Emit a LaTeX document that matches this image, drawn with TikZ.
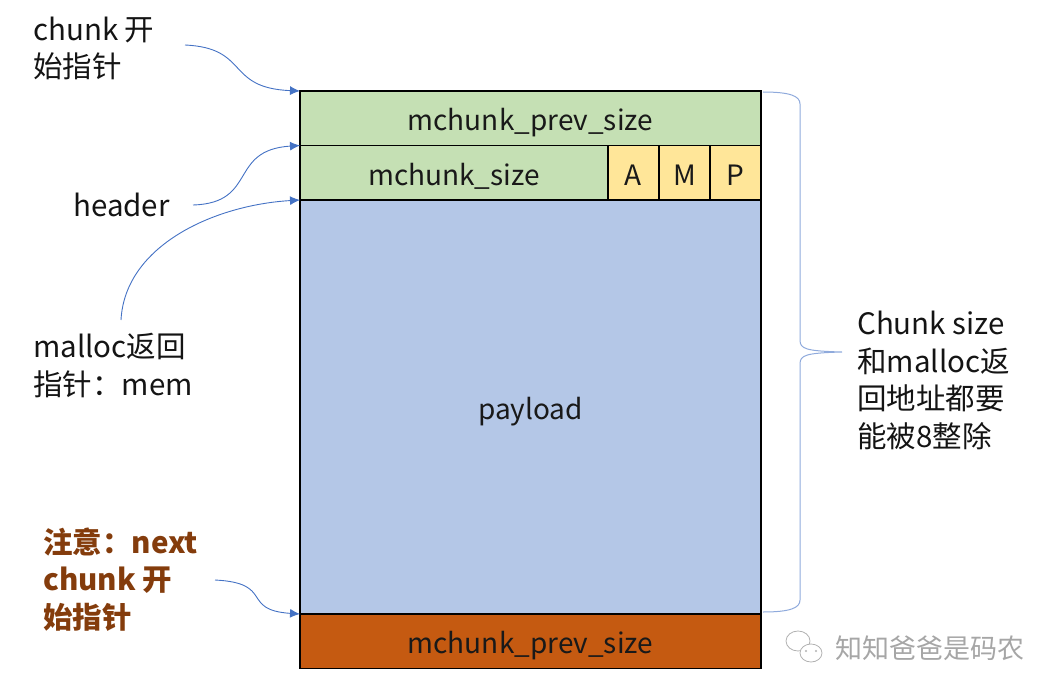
\documentclass[tikz,border=0pt]{standalone}
\usepackage{fontspec}
\setmainfont{Noto Sans CJK SC}
\usetikzlibrary{arrows.meta}

\definecolor{hdrgreen}{HTML}{C5E0B4}
\definecolor{flagyellow}{HTML}{FFE699}
\definecolor{loadblue}{HTML}{B4C7E7}
\definecolor{nextorange}{HTML}{C55A11}
\definecolor{notebrown}{HTML}{843C0C}
\definecolor{ptrblue}{HTML}{4472C4}
\definecolor{bracegray}{HTML}{8FAADC}

\begin{document}
\begin{tikzpicture}[x=1pt, y=-1pt,
  cell/.style={draw=black, line width=1.8pt, inner sep=0pt, outer sep=0pt, anchor=north west,
    minimum height=54.5pt, text height=30pt, text depth=5pt,
    font=\fontsize{28}{32}\selectfont, text=black!90},
  lbl/.style={inner sep=0pt, align=left, anchor=base west,
    font=\fontsize{29.5}{37.5}\selectfont, text=black!92},
  ptr/.style={ptrblue, line width=0.9pt, -{Latex[length=10pt,width=9pt]}}]
  \useasboundingbox (0,0) rectangle (1051,695);

  % memory chunk
  \node[cell, fill=hdrgreen, minimum width=461pt] (prev) at (300,91) {mchunk\_prev\_size};
  \node[cell, fill=hdrgreen, minimum width=308pt] (size) at (prev.south west) {mchunk\_size};
  \node[cell, fill=flagyellow, minimum width=51pt] (a) at (size.north east) {A};
  \node[cell, fill=flagyellow, minimum width=51pt] (m) at (a.north east) {M};
  \node[cell, fill=flagyellow, minimum width=51pt] (p) at (m.north east) {P};
  \node[cell, fill=loadblue, minimum width=461pt, minimum height=414pt] (payload) at (size.south west) {payload};
  \node[cell, fill=nextorange, minimum width=461pt] (next) at (payload.south west) {mchunk\_prev\_size};

  % labels (base = last line)
  \node[lbl] (start) at (33,78) {chunk 开\\始指针};
  \node[lbl] (header) at (73,216) {header};
  \node[lbl] (mem) at (33,395) {malloc返回\\指针：mem};
  \node[lbl, text=notebrown, font=\fontsize{29.5}{37.5}\selectfont\bfseries] (nextstart) at (43,628) {注意：next\\chunk 开\\始指针};
  \node[lbl] (align) at (857,447) {Chunk size\\和malloc返\\回地址都要\\能被8整除};

  \coordinate (starttail) at (185,45);
  \coordinate (headertail) at (193,205);
  \coordinate (memtail) at (121,320);
  \coordinate (nexttail) at (215,580);

  \draw[ptr] (starttail) .. controls (250,48) and (225,88) .. (prev.north west);
  \draw[ptr] (headertail) .. controls (258,203) and (228,150) .. (size.north west);
  \draw[ptr] (memtail) .. controls (125,245) and (215,205) .. (payload.north west);
  \draw[ptr] (nexttail) .. controls (275,583) and (240,610) .. (next.north west);

  % brace
  \draw[bracegray, line width=1pt] (763,92) .. controls (790,92) and (800,96) .. (800,104)
    -- (800,340) .. controls (800,349) and (806,351) .. (842,352)
    .. controls (806,353) and (800,355) .. (800,364)
    -- (800,600) .. controls (800,608) and (790,612) .. (763,612);

  % watermark
  \draw[gray!60, fill=white, line width=0.8pt] (798,641) ellipse (12pt and 10pt);
  \draw[gray!60, fill=white, line width=0.8pt] (811,653) ellipse (11pt and 9pt);
  \fill[gray!60] (806,651) circle (1.2pt) (816,651) circle (1.2pt);
  \node[inner sep=0pt, anchor=west, text=gray!70, font=\fontsize{27}{30}\selectfont] (mark) at (835,648) {知知爸爸是码农};
\end{tikzpicture}
\end{document}
